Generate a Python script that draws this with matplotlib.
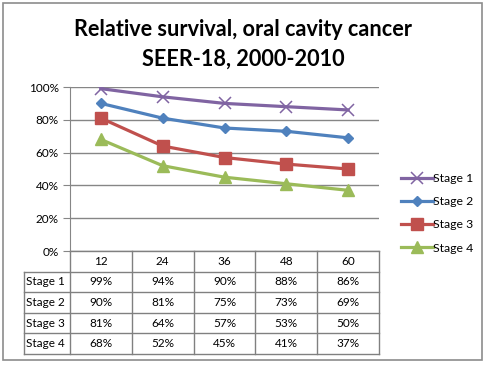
import numpy as np
import matplotlib.pyplot as plt
from matplotlib.transforms import blended_transform_factory
from matplotlib.lines import Line2D
from matplotlib.patches import Rectangle

months = ["12", "24", "36", "48", "60"]
stages = ["Stage 1", "Stage 2", "Stage 3", "Stage 4"]
stage1 = [99, 94, 90, 88, 86]
stage2 = [90, 81, 75, 73, 69]
stage3 = [81, 64, 57, 53, 50]
stage4 = [68, 52, 45, 41, 37]
series = [stage1, stage2, stage3, stage4]

colors = ["#8064A2", "#4F81BD", "#C0504D", "#9BBB59"]
markers = [("x", 8, 1.1), ("D", 5.5, 1), ("s", 8, 1), ("^", 8.5, 1)]

plt.rcParams["font.family"] = ["Lato", "DejaVu Sans"]

W, H = 486, 365
fig = plt.figure(figsize=(W / 100, H / 100), dpi=100)


def fx(px):
    return px / W


def fy(py):
    return 1 - py / H


# outer frame
fig.patches.append(Rectangle((fx(3), fy(360)), fx(479), (357) / H, transform=fig.transFigure,
                             fill=False, edgecolor="#8C8C8C", linewidth=1.2))

fig.text(0.5, fy(29), "Relative survival, oral cavity cancer", ha="center", va="center",
         fontsize=15.6, fontweight="bold")
fig.text(0.5, fy(59), "SEER-18, 2000-2010", ha="center", va="center",
         fontsize=15.6, fontweight="bold")

left, right, top, bottom = 70, 379, 87, 251
ax = fig.add_axes([fx(left), fy(bottom), fx(right - left), (bottom - top) / H])
x = np.arange(len(months))
for vals, name, c, (m, ms, mew) in zip(series, stages, colors, markers):
    ax.plot(x, np.array(vals) / 100, color=c, linewidth=2.3, marker=m, markersize=ms,
            markeredgewidth=mew, markeredgecolor=c, markerfacecolor=c, label=name)

ax.set_xlim(-0.5, len(months) - 0.5)
ax.set_ylim(0, 1)
ax.set_yticks(np.arange(0, 1.01, 0.2))
ax.set_yticklabels([f"{int(round(v * 100))}%" for v in np.arange(0, 1.01, 0.2)], fontsize=8.5)
ax.set_xticks([])
ax.yaxis.grid(True, color="#868686", linewidth=1)
ax.set_axisbelow(True)
ax.tick_params(axis="y", length=5, color="#868686", pad=3)
for s in ["top", "right", "bottom"]:
    ax.spines[s].set_visible(False)
ax.spines["left"].set_color("#868686")

# data table below the plot
tr = blended_transform_factory(ax.transData, ax.transAxes)
row_h = 20.6 / (bottom - top)
line_kw = dict(color="#808080", linewidth=1, transform=ax.transAxes, clip_on=False)
x_first = (24 - left) / (right - left)
n_rows = len(stages) + 1
ax.add_line(Line2D([0, 1], [0, 0], **line_kw))
for r in range(1, n_rows + 1):
    ax.add_line(Line2D([x_first, 1], [-r * row_h] * 2, **line_kw))
ax.add_line(Line2D([x_first, x_first], [-row_h, -n_rows * row_h], **line_kw))
for b in np.arange(len(months) + 1) - 0.5:
    ax.add_line(Line2D([b, b], [0, -n_rows * row_h], color="#808080", linewidth=1,
                       transform=tr, clip_on=False))

for i, mth in enumerate(months):
    ax.text(i, -0.5 * row_h, mth, transform=tr, ha="center", va="center", fontsize=8.5)
for r, (name, vals) in enumerate(zip(stages, series), start=1):
    ax.text(x_first + 0.008, -(r + 0.5) * row_h, name, transform=ax.transAxes,
            ha="left", va="center", fontsize=8.5)
    for i, v in enumerate(vals):
        ax.text(i, -(r + 0.5) * row_h, f"{v}%", transform=tr, ha="center", va="center",
                fontsize=8.5)

leg = fig.legend(loc="upper left", bbox_to_anchor=(fx(396), fy(168)), frameon=False,
                 fontsize=8.8, handlelength=2.6, labelspacing=1.0, handletextpad=0.05,
                 borderaxespad=0)

fig.savefig("out.png", dpi=100)
